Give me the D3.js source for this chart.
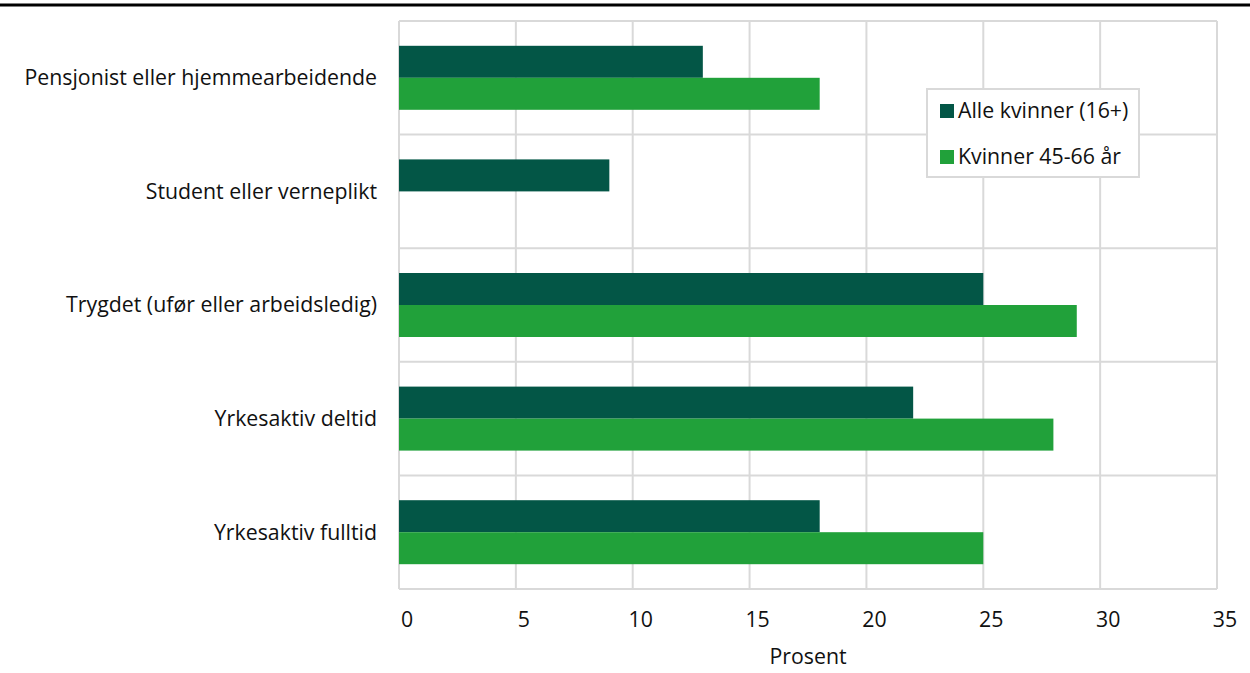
<!DOCTYPE html>
<html><head><meta charset="utf-8">
<script src="https://cdn.jsdelivr.net/npm/d3@7"></script>
<style>body{margin:0;background:#fff;}svg{display:block;font-family:"Open Sans",sans-serif;}</style>
</head><body><svg id="c" width="1250" height="673"></svg>
<script>
const categories = ["Pensjonist eller hjemmearbeidende","Student eller verneplikt","Trygdet (ufør eller arbeidsledig)","Yrkesaktiv deltid","Yrkesaktiv fulltid"];
const seriesNames = ["Alle kvinner (16+)","Kvinner 45-66 år"];
const alleKvinner = [13, 9, 25, 22, 18];
const kvinner4566 = [18, 0, 29, 28, 25];
const xTicks = [0,5,10,15,20,25,30,35];
const colors = ["#035646","#21a13a"];

const svg = d3.select("#c");
const m = {l:399, r:1217, t:21, b:589};
const x = d3.scaleLinear().domain([0,35]).range([m.l, m.r]);
const y = d3.scaleBand().domain(categories).range([m.t, m.b]);
const inner = d3.scaleBand().domain(seriesNames).range([0, y.bandwidth()]).paddingOuter(0.775).paddingInner(0);
const fs = 21.3;

svg.append("line").attr("x1",0).attr("x2",1250).attr("y1",5).attr("y2",5).attr("stroke","#000").attr("stroke-width",3);

const g = svg.append("g");
g.selectAll(".vg").data(xTicks).join("line")
  .attr("x1",d=>x(d)).attr("x2",d=>x(d)).attr("y1",m.t).attr("y2",m.b)
  .attr("stroke","#d9d9d9").attr("stroke-width",2);
const hb = categories.map(c=>y(c)).concat([m.b]);
g.selectAll(".hg").data(hb).join("line")
  .attr("x1",m.l).attr("x2",m.r).attr("y1",d=>d).attr("y2",d=>d)
  .attr("stroke","#d9d9d9").attr("stroke-width",2);

const series = [alleKvinner, kvinner4566];
series.forEach((vals, si) => {
  g.selectAll(".b"+si).data(vals.map((v,i)=>({v, c:categories[i]}))).join("rect")
    .attr("x", x(0)).attr("y", d=>y(d.c)+inner(seriesNames[si]))
    .attr("width", d=>x(d.v)-x(0)).attr("height", inner.bandwidth())
    .attr("fill", colors[si]);
});

svg.selectAll(".cl").data(categories).join("text")
  .attr("x", 377).attr("y", d=>y(d)+y.bandwidth()/2).attr("dy","0.35em")
  .attr("text-anchor","end").attr("font-size",fs).attr("fill","#111").text(d=>d);

svg.selectAll(".xt").data(xTicks).join("text")
  .attr("x", d=>x(d)+8).attr("y", 620).attr("dy","0.35em")
  .attr("text-anchor","middle").attr("font-size",fs).attr("fill","#111").text(d=>d);
svg.append("text").attr("x",808).attr("y",657).attr("dy","0.35em").attr("text-anchor","middle")
  .attr("font-size",fs).attr("fill","#111").text("Prosent");

const lg = svg.append("g").attr("transform","translate(927,89)");
lg.append("rect").attr("width",212).attr("height",88).attr("fill","#fff").attr("stroke","#d9d9d9").attr("stroke-width",2);
seriesNames.forEach((n,i)=>{
  lg.append("rect").attr("x",13).attr("y",15+i*46).attr("width",14).attr("height",14).attr("fill",colors[i]);
  lg.append("text").attr("x",31).attr("y",22+i*46).attr("dy","0.35em").attr("font-size",fs).attr("fill","#111").text(n);
});
</script></body></html>
